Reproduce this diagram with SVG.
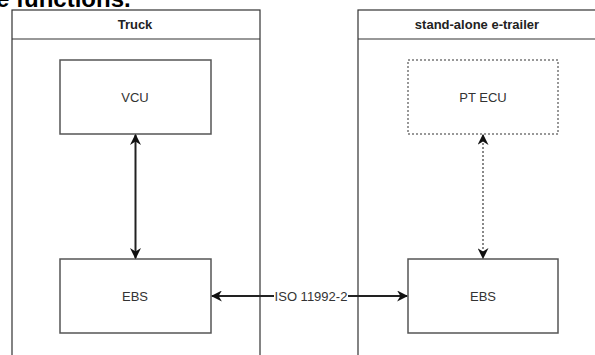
<svg xmlns="http://www.w3.org/2000/svg" width="595" height="355" viewBox="0 0 595 355">
<defs>
<style>
.lane{fill:#fff;stroke:#333;stroke-width:1.2}
.box{fill:#fff;stroke:#555;stroke-width:1.5}
.dash{fill:#fff;stroke:#777;stroke-width:1.5;stroke-dasharray:2 2}
.t{font-family:"Liberation Sans",Arial,sans-serif;font-size:13px;fill:#333;text-anchor:middle;dominant-baseline:central}
.h{font-weight:bold;fill:#222}
.c{fill:none;stroke:#222;stroke-width:2}
.cd{fill:none;stroke:#888;stroke-width:2;stroke-dasharray:2 2}
</style>
<marker id="ah" viewBox="0 0 10 10" refX="9" refY="5" markerWidth="5.5" markerHeight="5.5" orient="auto-start-reverse"><path d="M0,0 L10,5 L0,10 L3,5 Z" fill="#111"/></marker>
</defs>
<rect width="595" height="355" fill="#fff"/>
<text x="-4" y="7" font-family="'Liberation Sans',Arial,sans-serif" font-size="24" font-weight="bold" fill="#000">e functions.</text>
<g id="truck">
<rect class="lane" x="12" y="10" width="248" height="360"/>
<line x1="12" y1="39" x2="260" y2="39" stroke="#333" stroke-width="1.2"/>
<text class="t h" x="135" y="24">Truck</text>
</g>
<g id="trailer">
<rect class="lane" x="358" y="10" width="250" height="360"/>
<line x1="358" y1="39" x2="608" y2="39" stroke="#333" stroke-width="1.2"/>
<text class="t h" x="477" y="24">stand-alone e-trailer</text>
</g>
<g id="vcu">
<rect class="box" x="60" y="60" width="151" height="74"/>
<text class="t" x="135" y="97">VCU</text>
</g>
<g id="ebs-truck">
<rect class="box" x="60" y="259" width="151" height="74"/>
<text class="t" x="135" y="296">EBS</text>
</g>
<g id="pt-ecu">
<rect class="dash" x="408" y="60" width="150" height="74"/>
<text class="t" x="483" y="97">PT ECU</text>
</g>
<g id="ebs-trailer">
<rect class="box" x="408" y="259" width="150" height="74"/>
<text class="t" x="483" y="296">EBS</text>
</g>
<g id="connectors">
<line class="c" x1="135.5" y1="135" x2="135.5" y2="258" marker-start="url(#ah)" marker-end="url(#ah)"/>
<line class="cd" x1="483" y1="135" x2="483" y2="258" marker-start="url(#ah)" marker-end="url(#ah)"/>
<line class="c" x1="212" y1="296" x2="407" y2="296" marker-start="url(#ah)" marker-end="url(#ah)"/>
<rect x="274" y="288" width="74" height="16" fill="#fff"/>
<text class="t" x="311" y="296">ISO 11992-2</text>
</g>
</svg>
